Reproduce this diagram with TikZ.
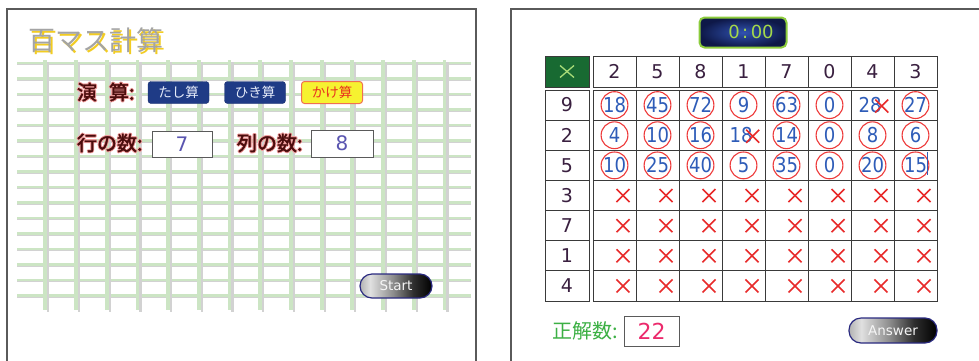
\documentclass[tikz,border=0pt]{standalone}
\usepackage{fontspec}
\usepackage{graphicx}
\setmainfont{DejaVu Sans}
\newfontfamily\jp{Noto Sans CJK JP}
\newfontfamily\jpb{Noto Sans CJK JP}[FakeBold=2]
\usetikzlibrary{calc}
\definecolor{gridgreen}{HTML}{CCE5C4}
\definecolor{gridgray}{HTML}{D2D2D2}
\definecolor{panelgray}{HTML}{5A5A5A}
\definecolor{cellgray}{HTML}{3A3A3A}
\definecolor{hdrgreen}{HTML}{186A32}
\definecolor{xgreen}{HTML}{A8DC78}
\definecolor{hdrdigit}{HTML}{3A2040}
\definecolor{numblue}{HTML}{2E5CB8}
\definecolor{circred}{HTML}{EE3A3A}
\definecolor{xred}{HTML}{E82A2A}
\definecolor{lblred}{HTML}{4A0C0C}
\definecolor{glowpink}{HTML}{F2A0A0}
\definecolor{btnnavy}{HTML}{1F3B86}
\definecolor{btntext}{HTML}{E6ECFA}
\definecolor{kakeyellow}{HTML}{F6F230}
\definecolor{kakeborder}{HTML}{F07050}
\definecolor{kaketext}{HTML}{E8301E}
\definecolor{boxnum}{HTML}{5A55B0}
\definecolor{titlegray}{HTML}{A4A4A4}
\definecolor{titleyellow}{HTML}{F2CC22}
\definecolor{okgreen}{HTML}{3CB044}
\definecolor{scorepink}{HTML}{EC2A6C}
\definecolor{timerinner}{HTML}{3052B0}
\definecolor{timerouter}{HTML}{0E1848}
\definecolor{timerborder}{HTML}{8CCC3C}
\definecolor{timertext}{HTML}{A4D84A}
\definecolor{btnborder}{HTML}{2A2A80}
\pgfdeclarehorizontalshading{btnshade}{100bp}{color(0bp)=(black!30); color(25bp)=(black!30); color(32bp)=(black!12); color(48bp)=(black!45); color(62bp)=(black!82); color(75bp)=(black); color(100bp)=(black)}
\newcommand\glowlabel[3]{%
  \foreach \gx/\gy in {-0.9/0,0.9/0,0/-0.9,0/0.9,0.6/0.6,-0.6/-0.6,0.6/-0.6,-0.6/0.6}{%
    \node[lbl, text=glowpink, anchor=west, xshift=\gx pt, yshift=\gy pt] at (#2) {#3};}%
  \node[lbl, text=lblred, anchor=west] (#1) at (#2) {#3};}
\begin{document}
\begin{tikzpicture}[x=1pt,y=-1pt,
  every node/.style={inner sep=0pt, outer sep=0pt},
  panel/.style={draw=panelgray, line width=1.4},
  lbl/.style={font=\jpb\fontsize{20}{20}\selectfont},
  opbtn/.style={rounded corners=3pt, minimum width=61pt, minimum height=22pt, font=\jp\fontsize{13.5}{13.5}\selectfont},
  numbox/.style={draw=panelgray, fill=white, line width=1, font=\fontsize{20}{20}\selectfont, text=boxnum},
  tcell/.style={draw=cellgray, fill=white, line width=0.9, minimum width=43pt, minimum height=30.15pt},
  hdr/.style={font=\fontsize{19}{19}\selectfont, text=hdrdigit},
  num/.style={font=\fontsize{20.5}{20.5}\selectfont, text=numblue},
  redcirc/.style={draw=circred, line width=1.1},
  redx/.style={draw=xred, line width=1.6},
  pillbtn/.style={draw=btnborder, line width=1.2, rounded corners=12pt, shade, shading=btnshade, text=white!92!gray, font=\fontsize{13.5}{13.5}\selectfont}
]
\useasboundingbox (0,0) rectangle (979,360);
\fill[white] (0,0) rectangle (979,360);

% ---------------- left panel ----------------
\draw[panel] (7,362) -- (7,9) -- (476,9) -- (476,362);

% grid
\foreach \i in {0,...,15}{
  \pgfmathsetmacro\yy{63+15.5*\i}
  \draw[gridgray, line width=0.8] (17,\yy+1.4) -- (471,\yy+1.4);
  \draw[gridgreen, line width=2.3] (17,\yy) -- (471,\yy);
}
\foreach \i in {0,...,13}{
  \pgfmathsetmacro\xx{45.3+30.7*\i}
  \draw[gridgray, line width=2.2] (\xx+3,62) -- (\xx+3,312);
  \draw[gridgreen, line width=3.8] (\xx,60) -- (\xx,310);
}

% title
\node[anchor=west, font=\jp\fontsize{27}{27}\selectfont, text=titleyellow] at (30,42.3) {百マス計算};
\node[anchor=west, font=\jp\fontsize{27}{27}\selectfont, text=titlegray] (title) at (28,40) {百マス計算};

% operation row
\glowlabel{ensan}{77,92}{演\hspace{12pt}算:}
\node[opbtn, fill=btnnavy, draw=btnnavy!80!black, text=btntext] (tashi) at (178.5,92.5) {たし算};
\node[opbtn, fill=btnnavy, draw=btnnavy!80!black, text=btntext] (hiki) at (255,92.5) {ひき算};
\node[opbtn, fill=kakeyellow, draw=kakeborder, line width=1, text=kaketext] (kake) at (332,92.5) {かけ算};

% rows / cols
\glowlabel{gyo}{77,143}{行の数:}
\node[numbox, minimum width=60pt, minimum height=26pt] (gyobox) at (182,144) {7};
\glowlabel{retsu}{237,143}{列の数:}
\node[numbox, minimum width=62pt, minimum height=27pt] (retsubox) at (342,143.5) {8};

% start button
\node[pillbtn, minimum width=72pt, minimum height=24pt] (start) at (396,286) {Start};

% ---------------- right panel ----------------
\draw[panel] (511,362) -- (511,9) -- (981,9);

% timer
\node[draw=timerborder, line width=2, rounded corners=5pt, minimum width=87pt, minimum height=30pt,
      inner color=timerinner, outer color=timerouter] (timer) at (743,32.5) {};
\node[font=\fontsize{18}{18}\selectfont, text=timertext] (time) at (751,32) {0\kern2.5pt:\kern2.5pt00};

% header X cell
\node[draw=cellgray, fill=hdrgreen, line width=0.9, minimum width=44pt, minimum height=31pt] (hx) at (567,71.5) {};
\draw[xgreen, line width=1.3] ($(hx.center)+(-7,-6)$) -- ($(hx.center)+(7,6)$);
\draw[xgreen, line width=1.3] ($(hx.center)+(-7,6)$) -- ($(hx.center)+(7,-6)$);

% column headers
\foreach \v [count=\j from 0] in {2,5,8,1,7,0,4,3}{
  \node[tcell, minimum height=31pt, hdr] (h\j) at ({593+43*(\j+0.5)},71.5) {\v};
}
% row headers and body
\foreach \v [count=\i from 0] in {9,2,5,3,7,1,4}{
  \pgfmathsetmacro\ry{90+30.15*(\i+0.5)}
  \node[tcell, minimum width=44pt, hdr] (r\i) at (567,\ry) {\v};
  \foreach \j in {0,...,7}{
    \node[tcell] (b\i-\j) at ({593+43*(\j+0.5)},\ry) {};
  }
}
% answered rows
\foreach \row/\vals in {0/{18/1,45/1,72/1,9/1,63/1,0/1,28/0,27/1},
                         1/{4/1,10/1,16/1,18/0,14/1,0/1,8/1,6/1},
                         2/{10/1,25/1,40/1,5/1,35/1,0/1,20/1,15/1}}{
  \foreach \v/\c [count=\j from 0] in \vals{
    \ifnum\c=1
      \draw[redcirc] (b\row-\j.center) circle (13.4);
      \node[num] at (b\row-\j.center) {\scalebox{0.88}[1]{\v}};
    \else
      \node[num, xshift=-2.5pt] at (b\row-\j.center) {\scalebox{0.88}[1]{\v}};
      \draw[redx] ($(b\row-\j.center)+(2.7,-5.5)$) -- ($(b\row-\j.center)+(15.7,7.5)$);
      \draw[redx] ($(b\row-\j.center)+(2.7,7.5)$) -- ($(b\row-\j.center)+(15.7,-5.5)$);
    \fi
  }
}
% cursor after 15
\draw[numblue, line width=0.9] ($(b2-7.center)+(11.5,-13)$) -- ($(b2-7.center)+(11.5,10)$);
% unanswered rows
\foreach \i in {3,...,6}{
  \foreach \j in {0,...,7}{
    \draw[redx] ($(b\i-\j.center)+(2,-6.5)$) -- ($(b\i-\j.center)+(15,6.5)$);
    \draw[redx] ($(b\i-\j.center)+(2,6.5)$) -- ($(b\i-\j.center)+(15,-6.5)$);
  }
}

% score
\node[anchor=west, font=\jp\fontsize{20}{20}\selectfont, text=okgreen] (seikai) at (552,331) {正解数:};
\node[draw=panelgray, fill=white, line width=1, minimum width=55pt, minimum height=30pt,
      font=\fontsize{22}{22}\selectfont, text=scorepink] (score) at (651.5,331) {22};

% answer button
\node[pillbtn, minimum width=88pt, minimum height=25pt] (answer) at (893,330.5) {Answer};
\end{tikzpicture}
\end{document}
